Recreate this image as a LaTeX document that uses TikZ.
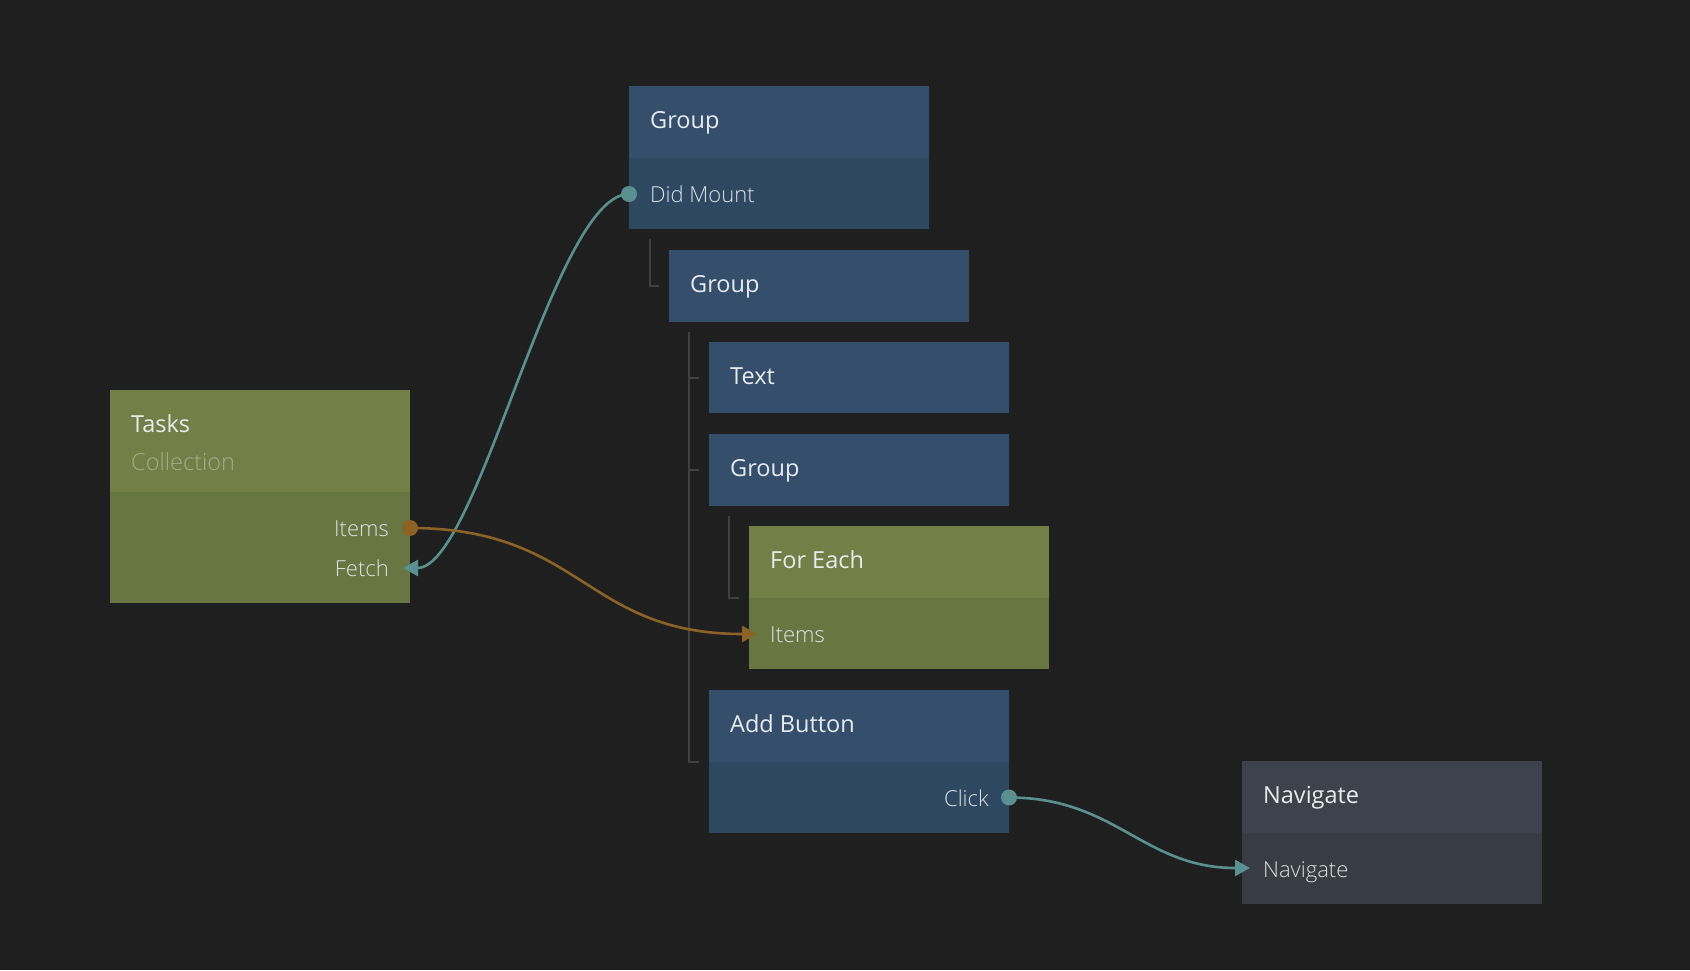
\documentclass[tikz,border=0pt]{standalone}
\usepackage{fontspec}
\setmainfont{Open Sans}
\IfFontExistsTF{Open Sans Light}
  {\newfontfamily\portfont{Open Sans Light}}
  {\newfontfamily\portfont{Open Sans}}
\usetikzlibrary{arrows.meta,calc}

\definecolor{bg}{HTML}{1F1F1F}
\definecolor{blueH}{HTML}{344E6B}
\definecolor{blueP}{HTML}{2E4862}
\definecolor{greenH}{HTML}{728048}
\definecolor{greenP}{HTML}{687742}
\definecolor{greyH}{HTML}{3E424C}
\definecolor{greyP}{HTML}{383C45}
\definecolor{titlec}{HTML}{E9ECEE}
\definecolor{portc}{HTML}{DDE1E5}
\definecolor{subc}{HTML}{A3AC88}
\definecolor{tealw}{HTML}{5A9090}
\definecolor{orangew}{HTML}{8C6226}
\definecolor{treec}{HTML}{404040}

\tikzset{
  panel/.style={fill=#1, draw=none, anchor=north west, inner sep=0pt, outer sep=0pt,
                minimum width=300pt},
  title/.style={anchor=base west, text=titlec, inner sep=0pt,
                font=\fontsize{23.5}{28}\selectfont},
  subtitle/.style={anchor=base west, text=subc, inner sep=0pt,
                font=\portfont\fontsize{23.5}{28}\selectfont},
  portl/.style={anchor=base west, text=portc, inner sep=0pt,
                font=\portfont\fontsize{22}{26}\selectfont},
  portr/.style={anchor=base east, text=portc, inner sep=0pt,
                font=\portfont\fontsize{22}{26}\selectfont},
  portdot/.style={circle, fill=#1, minimum size=16pt, inner sep=0pt, outer sep=0pt},
  wire/.style={draw=#1, line width=2.6pt,
               -{Triangle[length=15pt,width=16pt]}},
  treeline/.style={draw=treec, line width=2pt},
}

\begin{document}
\begin{tikzpicture}[x=1pt,y=-1pt]
  \fill[bg] (0,0) rectangle (1690,970);
  \useasboundingbox (0,0) rectangle (1690,970);

  % Root group
  \node[panel=blueH, minimum height=72pt] (g1) at (629,86) {};
  \node[panel=blueP, minimum height=71pt] (g1p) at (629,158) {};
  \node[title] (g1t) at (650,128) {Group};
  \node[portl] (g1dm) at (650,202) {Did Mount};

  % Nested group
  \node[panel=blueH, minimum height=72pt] (g2) at (669,250) {};
  \node[title] (g2t) at (690,292) {Group};

  % Text
  \node[panel=blueH, minimum height=71pt] (tx) at (709,342) {};
  \node[title] (txt) at (730,384) {Text};

  % Inner group
  \node[panel=blueH, minimum height=72pt] (g3) at (709,434) {};
  \node[title] (g3t) at (730,476) {Group};

  % For Each
  \node[panel=greenH, minimum height=72pt] (fe) at (749,526) {};
  \node[panel=greenP, minimum height=71pt] (fep) at (749,598) {};
  \node[title] (fet) at (770,568) {For Each};
  \node[portl] (feitems) at (770,642) {Items};

  % Add Button
  \node[panel=blueH, minimum height=72pt] (ab) at (709,690) {};
  \node[panel=blueP, minimum height=71pt] (abp) at (709,762) {};
  \node[title] (abt) at (730,732) {Add Button};
  \node[portr] (abclick) at (989,806) {Click};

  % Navigate
  \node[panel=greyH, minimum height=72pt] (nv) at (1242,761) {};
  \node[panel=greyP, minimum height=71pt] (nvp) at (1242,833) {};
  \node[title] (nvt) at (1263,803) {Navigate};
  \node[portl] (nvport) at (1263,877) {Navigate};

  % Tasks collection
  \node[panel=greenH, minimum height=102pt] (tk) at (110,390) {};
  \node[panel=greenP, minimum height=111pt] (tkp) at (110,492) {};
  \node[title] (tkt) at (131,432) {Tasks};
  \node[subtitle] (tks) at (131,470) {Collection};
  \node[portr] (tkitems) at (389,536) {Items};
  \node[portr] (tkfetch) at (389,576) {Fetch};

  % Hierarchy lines
  \draw[treeline] ($(g1p.south west)+(21,10)$) |- ($(g2.west)+(-10,0)$);
  \draw[treeline] ($(g2.south west)+(20,10)$) |- ($(abp.north west)+(-10,0)$);
  \draw[treeline] ($(tx.west)+(-20,0)$) -- ($(tx.west)+(-10,0)$);
  \draw[treeline] ($(g3.west)+(-20,0)$) -- ($(g3.west)+(-10,0)$);
  \draw[treeline] ($(g3.south west)+(20,10)$) |- ($(fep.north west)+(-10,0)$);

  % Port positions
  \coordinate (dmin) at (629,194);
  \coordinate (tkout) at (410,528);
  \coordinate (tkin) at (403,568);
  \coordinate (fein) at (757,634);
  \coordinate (about) at (1009,797.5);
  \coordinate (nvin) at (1250,868);

  % Connections
  \draw[wire=tealw] (dmin) .. controls ($(dmin)+(-75,0)$) and ($(tkin)+(75,0)$) .. (tkin);
  \draw[wire=orangew] (tkout) .. controls ($(tkout)+(173,0)$) and ($(fein)+(-173,0)$) .. (fein);
  \draw[wire=tealw] (about) .. controls ($(about)+(107,0)$) and ($(nvin)+(-107,0)$) .. (nvin);

  % Output dots
  \node[portdot=tealw] (dmdot) at (dmin) {};
  \node[portdot=orangew] (tkdot) at (tkout) {};
  \node[portdot=tealw] (abdot) at (about) {};
\end{tikzpicture}
\end{document}
